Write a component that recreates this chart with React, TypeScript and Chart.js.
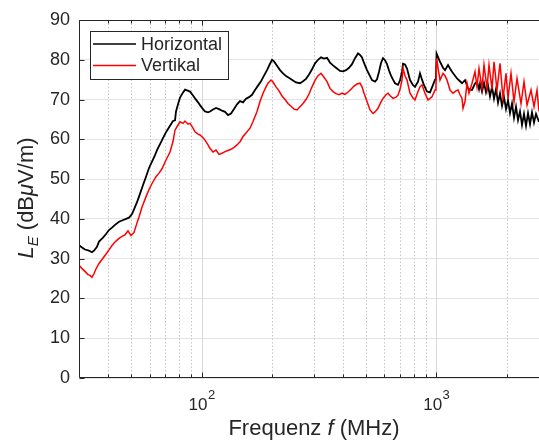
import { useEffect, useRef } from 'react';
import { Chart, registerables } from 'chart.js';
Chart.register(...registerables);

const FONT = "'Liberation Sans', Arial, sans-serif";

// Horizontal polarization (black)
const horizontalFreq = [30.0,30.90,31.82,33.09,34.08,34.75,35.79,36.51,37.97,39.11,40.27,41.47,42.71,44.43,45.76,47.59,49.01,50.47,51.48,53.01,54.07,56.24,57.92,59.64,61.42,63.26,64.51,66.44,68.42,70.47,73.30,75.49,76.98,77.74,79.28,80.86,83.28,84.93,86.61,89.20,91.87,93.69,96.49,98.39,101.33,103.34,106.43,108.54,111.78,115.12,118.56,122.10,125.75,129.51,133.38,137.37,141.47,145.70,150.06,154.54,159.16,163.92,168.81,173.86,179.05,184.40,189.91,195.59,199.47,203.42,209.50,215.76,222.20,228.85,238.00,245.12,252.44,262.55,270.40,278.48,286.80,295.37,304.20,313.29,322.64,332.28,342.21,352.44,362.97,373.82,388.79,400.40,412.37,424.69,437.38,450.45,463.91,473.11,482.49,492.05,506.76,521.90,532.24,548.15,559.02,570.10,581.40,592.93,604.68,616.67,628.89,641.35,654.07,667.04,686.97,700.58,714.47,721.52,735.82,750.41,772.83,795.92,811.70,835.96,852.52,869.42,886.66,913.16,940.44,968.55,987.75,997,1003,1037.4,1068.4,1089.6,1122.2,1144.4,1167.1,1201.9,1225.8,1262.4,1287.5,1325.9,1365.6,1392.6,1420.2,1462.7,1491.7,1521.2,1536.2,1566.7,1597.7,1629.4,1661.7,1694.6,1728.2,1762.5,1797.5,1833.1,1869.5,1906.5,1944.3,1982.9,2022.2,2062.2,2103.1,2144.8,2187.4,2230.7,2274.9,2320.0,2366.0,2412.9,2460.8,2509.5,2559.2,2610.0,2661.8,2741];
const horizontalLevel = [33.4,32.8,32.3,32.0,31.6,32.0,33.0,34.3,35.3,36.2,37.2,37.8,38.5,39.3,39.6,40.0,40.3,41.2,42.4,44.2,45.6,48.5,50.6,52.8,54.4,56.0,57.3,58.8,60.3,61.8,63.4,64.6,64.8,67.0,68.8,70.5,71.8,72.5,72.3,72.0,71.0,70.3,69.3,68.6,67.6,67.0,66.8,67.0,67.5,67.9,67.6,67.2,66.9,66.1,66.5,67.6,68.8,69.6,69.3,70.2,70.6,71.2,72.4,73.5,74.6,76.0,77.4,79.0,80.0,79.6,78.5,77.4,76.6,75.9,75.3,74.8,74.3,74.1,74.6,75.2,76.3,77.6,79.1,80.0,80.6,80.3,80.5,79.3,78.6,78.0,77.2,77.1,77.4,78.0,78.9,80.4,81.6,81.2,80.6,79.2,77.4,75.9,74.9,74.5,75.1,77.0,79.2,80.4,79.9,78.9,77.3,76.0,75.0,74.1,73.7,74.8,77.0,79.0,78.8,77.8,74.9,73.6,73.2,74.5,76.6,75.0,73.6,72.0,71.8,73.7,75.0,75.6,81.6,79.5,78.0,77.4,78.7,77.8,77.0,76.0,75.3,74.6,74.1,74.9,72.8,72.5,72.4,74.0,74.5,72.6,74.0,72.0,74.2,71.8,73.6,70.8,73.2,70.2,72.6,69.2,71.5,68.4,70.6,67.6,69.8,66.6,69.0,65.4,68.2,64.8,67.0,63.6,66.4,63.4,66.6,63.8,66.8,64.2,66.4,64.4];

// Vertical polarization (red)
const vertikalFreq = [30.0,30.90,31.82,32.77,33.42,34.08,34.75,35.44,36.51,37.60,38.72,40.27,41.47,42.71,44.43,45.76,47.13,48.53,49.98,51.48,53.01,54.07,55.69,57.92,59.64,61.42,63.88,65.79,67.76,70.47,73.30,75.49,76.98,79.28,80.86,83.28,84.93,87.47,89.20,91.87,93.69,96.49,98.39,101.33,103.34,106.43,108.54,111.78,115.12,118.56,122.10,125.75,129.51,133.38,137.37,141.47,145.70,150.06,154.54,160.73,165.53,172.16,177.30,182.60,188.06,191.79,197.52,201.44,207.46,213.65,220.03,226.61,233.38,240.35,247.53,254.93,262.55,270.40,278.48,286.80,295.37,304.20,313.29,322.64,332.28,342.21,352.44,362.97,373.82,384.99,396.49,408.34,420.55,433.11,446.05,459.38,473.11,482.49,492.05,506.76,521.90,537.49,548.15,564.53,581.40,592.93,610.65,622.75,635.09,654.07,673.62,686.97,700.58,714.47,721.52,735.82,750.41,772.83,795.92,811.70,835.96,852.52,869.42,895.41,922.17,940.44,959.09,987.75,997,1003,1017,1037.4,1068.4,1089.6,1111.2,1144.4,1178.6,1213.8,1237.9,1262.4,1287.5,1300.2,1325.9,1352.2,1379.0,1420.2,1462.7,1491.7,1521.2,1566.7,1597.7,1645.5,1678.1,1728.2,1762.5,1815.2,1869.5,1925.3,1982.9,2022.2,2082.6,2144.8,2208.9,2297.3,2366.0,2436.7,2534.3,2610.0,2688.0,2741];
const vertikalLevel = [28.4,27.5,26.8,26.0,25.8,25.3,26.2,27.4,28.8,29.8,30.8,32.2,33.3,34.2,35.1,35.6,36.0,37.0,35.8,36.6,39.0,40.5,43.0,45.6,47.4,48.9,50.6,51.5,52.6,54.8,56.8,59.5,62.3,63.6,64.4,64.0,64.6,63.8,64.0,62.8,61.9,61.3,61.1,60.4,59.8,58.6,57.7,56.8,57.3,56.2,56.5,56.9,57.2,57.5,58.0,58.6,59.4,60.7,61.6,62.8,64.5,67.0,69.5,71.6,73.2,74.1,74.9,74.4,73.2,72.2,70.9,70.0,69.0,68.3,67.6,67.4,68.2,69.0,70.0,71.4,73.2,74.8,76.0,76.6,75.6,74.5,72.8,72.0,71.5,71.2,71.6,71.3,71.9,72.6,73.4,73.9,74.1,73.2,71.6,69.5,67.4,66.5,66.9,67.8,69.4,70.3,71.2,71.6,71.0,70.3,70.6,71.1,72.6,74.9,77.8,76.0,74.9,71.6,70.4,69.9,72.0,73.2,73.7,71.6,69.9,70.3,70.7,72.4,73.0,80.4,78.0,74.9,76.6,76.0,74.9,72.4,71.6,72.2,72.4,71.2,70.3,67.8,69.5,74.1,71.6,74.1,77.0,73.2,77.8,72.8,78.7,72.8,78.7,72.6,79.5,72.4,79.1,70.3,76.6,70.3,76.6,69.5,75.3,69.0,74.5,68.6,72.4,68.2,72.4,67.0];

const seriesNames = ['Horizontal', 'Vertikal'];
const seriesColors = ['#000000', '#ff0000'];
const yMin = 0;
const yMax = 90;
const yStep = 10;
const xMin = 30;
const xMax = 2741;
const minorFreqs = [40, 50, 60, 70, 80, 90, 200, 300, 400, 500, 600, 700, 800, 900, 2000];
const majorFreqs = [100, 1000];
const majorExponents = ['2', '3'];

const axisColor = '#262626';

const matlabPlugin = {
  id: 'matlabStyle',
  beforeDatasetsDraw(chart: any) {
    const { ctx, chartArea: a, scales } = chart;
    const x = scales.x;
    ctx.save();
    ctx.lineWidth = 1;
    ctx.strokeStyle = '#c6c6c6';
    ctx.setLineDash([1.5, 2]);
    for (const f of minorFreqs) {
      const px = Math.round(x.getPixelForValue(f)) + 0.5;
      ctx.beginPath();
      ctx.moveTo(px, a.top);
      ctx.lineTo(px, a.bottom);
      ctx.stroke();
    }
    ctx.setLineDash([]);
    ctx.strokeStyle = '#d8d8d8';
    for (const f of majorFreqs) {
      const px = Math.round(x.getPixelForValue(f)) + 0.5;
      ctx.beginPath();
      ctx.moveTo(px, a.top);
      ctx.lineTo(px, a.bottom);
      ctx.stroke();
    }
    ctx.restore();
  },
  afterDatasetsDraw(chart: any) {
    const { ctx, chartArea: a, scales } = chart;
    const x = scales.x;
    const y = scales.y;
    ctx.save();
    ctx.strokeStyle = axisColor;
    ctx.lineWidth = 1;
    const L = Math.round(a.left) + 0.5;
    const B = Math.round(a.bottom) - 0.5;
    const T = Math.round(a.top) + 0.5;
    ctx.beginPath();
    ctx.moveTo(a.right + 1, T);
    ctx.lineTo(L, T);
    ctx.lineTo(L, B);
    ctx.lineTo(a.right + 1, B);
    ctx.stroke();
    for (let v = yMin; v <= yMax; v += yStep) {
      const py = Math.round(y.getPixelForValue(v)) + 0.5;
      ctx.beginPath();
      ctx.moveTo(L, py);
      ctx.lineTo(L + 5, py);
      ctx.stroke();
    }
    const drawXTick = (f: number, len: number) => {
      const px = Math.round(x.getPixelForValue(f)) + 0.5;
      ctx.beginPath();
      ctx.moveTo(px, B);
      ctx.lineTo(px, B - len);
      ctx.moveTo(px, T);
      ctx.lineTo(px, T + len);
      ctx.stroke();
    };
    minorFreqs.forEach((f) => drawXTick(f, 3));
    majorFreqs.forEach((f) => drawXTick(f, 5));

    ctx.fillStyle = axisColor;
    ctx.textBaseline = 'alphabetic';
    ctx.textAlign = 'left';
    majorFreqs.forEach((f, i) => {
      const px = x.getPixelForValue(f);
      ctx.font = `17px ${FONT}`;
      const w1 = ctx.measureText('10').width;
      ctx.font = `13px ${FONT}`;
      const w2 = ctx.measureText(majorExponents[i]).width;
      const start = px - (w1 + w2) / 2;
      ctx.font = `17px ${FONT}`;
      ctx.fillText('10', start, 410);
      ctx.font = `13px ${FONT}`;
      ctx.fillText(majorExponents[i], start + w1 + 0.5, 399);
    });

    const xParts: [string, string][] = [
      ['Frequenz ', `22px ${FONT}`],
      ['f', `italic 22px ${FONT}`],
      [' (MHz)', `22px ${FONT}`],
    ];
    let tw = 0;
    xParts.forEach(([t, f]) => { ctx.font = f; tw += ctx.measureText(t).width; });
    let cx = 314 - tw / 2;
    xParts.forEach(([t, f]) => { ctx.font = f; ctx.fillText(t, cx, 435); cx += ctx.measureText(t).width; });

    const yParts: [string, string, number][] = [
      ['L', `italic 22px ${FONT}`, 0],
      ['E', `italic 15px ${FONT}`, 5],
      [' (dB', `22px ${FONT}`, 0],
      ['\u03bc', `italic 22px ${FONT}`, 0],
      ['V/m)', `22px ${FONT}`, 0],
    ];
    ctx.save();
    ctx.translate(33, 198);
    ctx.rotate(-Math.PI / 2);
    let yw = 0;
    yParts.forEach(([t, f]) => { ctx.font = f; yw += ctx.measureText(t).width; });
    let cy = -yw / 2;
    yParts.forEach(([t, f, dy]) => { ctx.font = f; ctx.fillText(t, cy, dy); cy += ctx.measureText(t).width; });
    ctx.restore();

    const lx = a.left + 11;
    const ly = a.top + 11;
    ctx.fillStyle = '#ffffff';
    ctx.fillRect(lx, ly, 138, 48);
    ctx.strokeStyle = axisColor;
    ctx.lineWidth = 1;
    ctx.strokeRect(Math.round(lx) + 0.5, Math.round(ly) + 0.5, 138, 48);
    ctx.font = `18px ${FONT}`;
    ctx.textBaseline = 'middle';
    seriesNames.forEach((name, i) => {
      const rowY = ly + 13 + i * 21.5;
      ctx.strokeStyle = seriesColors[i];
      ctx.lineWidth = 1.3;
      ctx.beginPath();
      ctx.moveTo(lx + 3, rowY);
      ctx.lineTo(lx + 46, rowY);
      ctx.stroke();
      ctx.fillStyle = axisColor;
      ctx.fillText(name, lx + 51, rowY + 1);
    });
    ctx.restore();
  },
};

export default function App() {
  const canvasRef = useRef<HTMLCanvasElement | null>(null);

  useEffect(() => {
    if (!canvasRef.current) return;
    const hData = horizontalFreq.map((f, i) => ({ x: f, y: horizontalLevel[i] }));
    const vData = vertikalFreq.map((f, i) => ({ x: f, y: vertikalLevel[i] }));
    const chart = new Chart(canvasRef.current, {
      type: 'line',
      data: {
        datasets: [
          {
            label: seriesNames[0],
            data: hData,
            borderColor: seriesColors[0],
            borderWidth: 1.8,
            pointRadius: 0,
            tension: 0,
            order: 1,
          },
          {
            label: seriesNames[1],
            data: vData,
            borderColor: seriesColors[1],
            borderWidth: 1.5,
            pointRadius: 0,
            tension: 0,
            order: 0,
          },
        ],
      },
      options: {
        animation: false,
        responsive: false,
        events: [],
        layout: { padding: { top: 20, right: 0, left: 0, bottom: 0 } },
        plugins: { legend: { display: false }, tooltip: { enabled: false }, title: { display: false } },
        scales: {
          x: {
            type: 'logarithmic',
            min: xMin,
            max: xMax,
            ticks: { display: false },
            grid: { display: false },
            border: { display: false },
            afterFit: (s: any) => { s.height = 64; },
          },
          y: {
            type: 'linear',
            min: yMin,
            max: yMax,
            ticks: { stepSize: yStep, font: { size: 18, family: FONT }, color: axisColor, padding: 9 },
            grid: { color: '#e4e4e4', drawTicks: false, lineWidth: 1 },
            border: { display: false },
            afterFit: (s: any) => { s.width = 79; },
          },
        },
      },
      plugins: [matlabPlugin],
    } as any);
    return () => chart.destroy();
  }, []);

  return (
    <div style={{ position: 'absolute', left: 0, top: 0, width: 539, height: 442, background: '#fff' }}>
      <canvas ref={canvasRef} width={539} height={442} style={{ display: 'block' }} />
    </div>
  );
}
